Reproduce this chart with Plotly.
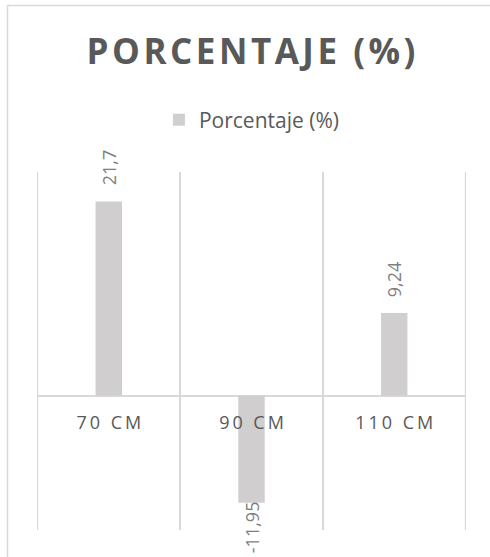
import plotly.graph_objects as go

categories = ["70 CM", "90 CM", "110 CM"]
values = [21.7, -11.95, 9.24]
series_name = "Porcentaje (%)"
title_text = "PORCENTAJE (%)"
y_range = [-15, 25]

W, H = 490, 557
L, R, T, B = 37, 24, 172, 27
pw, ph = W - L - R, H - T - B

def px_x(p):
    return (p - L) / pw

def px_y(p):
    return (H - B - p) / ph

def spaced(s, sp="\u2009"):
    return sp.join(list(s))

labels = [str(v).replace(".", ",") for v in values]

fig = go.Figure()
fig.add_trace(go.Bar(
    x=categories, y=values, name=series_name,
    marker=dict(color="#D0CECE", line=dict(width=0)),
    width=0.185,
    showlegend=True,
))

for c, v, t in zip(categories, values, labels):
    fig.add_annotation(
        x=c, y=v, text=t, textangle=-90, showarrow=False,
        xanchor="center", yanchor="bottom" if v >= 0 else "top",
        yshift=14 if v >= 0 else 3,
        font=dict(family="Open Sans", size=18, color="#7F7F7F"),
    )

zero_pos = (0 - y_range[0]) / (y_range[1] - y_range[0])

fig.update_layout(
    width=W, height=H,
    margin=dict(l=L, r=R, t=T, b=B),
    paper_bgcolor="white", plot_bgcolor="white",
    title=dict(text="<b>" + spaced(title_text, "\u200a") + "</b>", x=251 / W, xanchor="center",
               y=1 - 52 / H, yanchor="middle", yref="container",
               font=dict(family="Open Sans", size=35, color="#595959")),
    legend=dict(orientation="h", x=0.501, xanchor="center", y=px_y(120), yanchor="middle",
                font=dict(family="Open Sans", size=21, color="#595959"),
                itemwidth=30),
    xaxis=dict(
        type="category", tickson="boundaries", showgrid=True, gridcolor="#D9D9D9", gridwidth=1.5,
        tickmode="array", tickvals=categories, ticktext=[spaced(c) for c in categories],
        ticks="", showline=False, zeroline=False,
        anchor="free", position=zero_pos, ticklabelstandoff=14,
        tickfont=dict(family="Open Sans", size=18, color="#595959"),
        range=[-0.503, 2.503],
    ),
    yaxis=dict(
        range=y_range, showgrid=False, showticklabels=False, ticks="",
        zeroline=True, zerolinecolor="#D9D9D9", zerolinewidth=1.5, showline=False,
    ),
    bargap=0.8,
)

# category boundary lines at both ends of the category axis
for xb in (-0.5, len(categories) - 0.5):
    fig.add_shape(type="line", xref="x", yref="paper", x0=xb, x1=xb, y0=0, y1=1,
                  line=dict(color="#D9D9D9", width=1.5), layer="below")

# outer chart border (cropped at right and bottom)
fig.add_shape(type="line", xref="paper", yref="paper",
              x0=px_x(7), x1=px_x(W + 5), y0=px_y(5.5), y1=px_y(5.5),
              line=dict(color="#D9D9D9", width=1.5))
fig.add_shape(type="line", xref="paper", yref="paper",
              x0=px_x(7.5), x1=px_x(7.5), y0=px_y(5.5), y1=px_y(H + 5),
              line=dict(color="#D9D9D9", width=1.5))

fig.write_html("out.html", config={"displayModeBar": False},
               post_script="document.body.style.margin='0';document.body.style.overflow='hidden';")
